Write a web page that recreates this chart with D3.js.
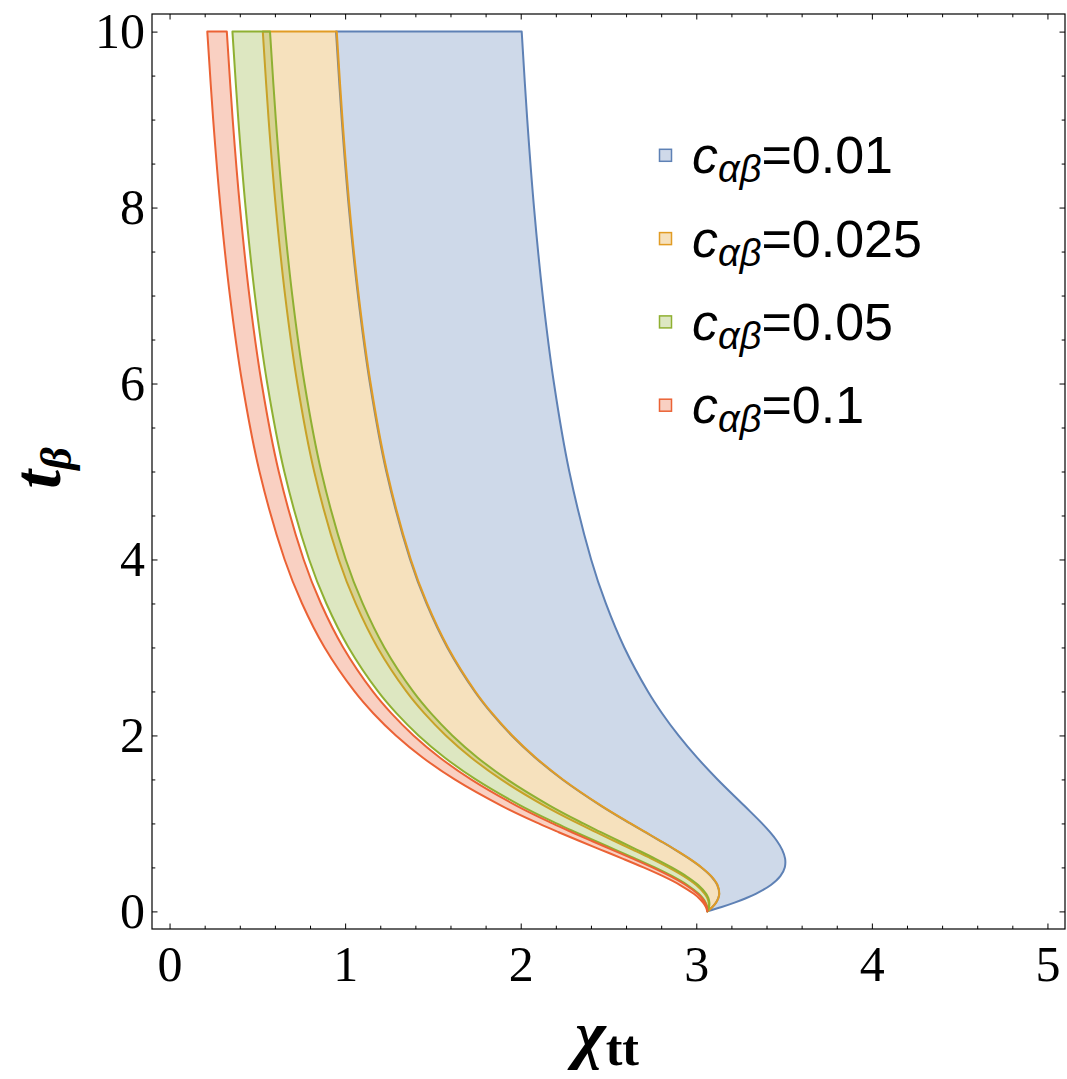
<!DOCTYPE html>
<html>
<head>
<meta charset="utf-8">
<script src="https://cdn.jsdelivr.net/npm/d3@7"></script>
<style>
  body { margin: 0; background: #fff; }
</style>
</head>
<body>
<svg id="chart"></svg>
<script>
// t_beta sample levels (shared by every boundary curve)
const tbLevels = [0, 0.05, 0.1, 0.15, 0.2, 0.3, 0.4, 0.5, 0.6, 0.7, 0.8, 0.9, 1, 1.2, 1.5, 1.75, 2, 2.25, 2.5, 3, 3.5, 4, 5, 6, 7, 8, 9, 10];

// chi_tt boundaries, one value per t_beta level
const upper001 = [3.063, 3.1446, 3.2179, 3.2826, 3.3387, 3.4249, 3.4787, 3.5039, 3.5059, 3.4894, 3.4595, 3.4201, 3.3745, 3.2739, 3.1212, 3.0037, 2.8985, 2.8058, 2.7246, 2.5900, 2.4849, 2.4011, 2.2767, 2.1896, 2.1253, 2.0758, 2.0372, 2.0056];
const lower001 = [3.063, 3.0915, 3.1121, 3.1250, 3.1303, 3.1195, 3.0839, 3.0286, 2.9590, 2.8799, 2.7955, 2.7090, 2.6229, 2.4574, 2.2368, 2.0809, 1.9479, 1.8346, 1.7377, 1.5817, 1.4629, 1.3699, 1.2344, 1.1412, 1.0731, 1.0211, 0.9807, 0.9479];
const upper0025 = [3.063, 3.0917, 3.1125, 3.1256, 3.1311, 3.1207, 3.0855, 3.0305, 2.9612, 2.8824, 2.7982, 2.7119, 2.6259, 2.4607, 2.2404, 2.0846, 1.9517, 1.8385, 1.7417, 1.5858, 1.4670, 1.3741, 1.2386, 1.1454, 1.0773, 1.0254, 0.9850, 0.9522];
const lower0025 = [3.063, 3.0705, 3.0704, 3.0628, 3.0481, 2.9991, 2.9283, 2.8412, 2.7434, 2.6396, 2.5338, 2.4287, 2.3266, 2.1355, 1.8882, 1.7170, 1.5731, 1.4517, 1.3486, 1.1842, 1.0600, 0.9634, 0.8236, 0.7278, 0.6582, 0.6054, 0.5642, 0.5310];
const upper005 = [3.063, 3.0726, 3.0745, 3.0689, 3.0562, 3.0110, 2.9437, 2.8597, 2.7647, 2.6633, 2.5596, 2.4564, 2.3559, 2.1673, 1.9226, 1.7529, 1.6101, 1.4895, 1.3870, 1.2234, 1.0998, 1.0035, 0.8641, 0.7686, 0.6991, 0.6464, 0.6053, 0.5721];
const lower005 = [3.063, 3.0619, 3.0531, 3.0371, 3.0140, 2.9492, 2.8638, 2.7636, 2.6541, 2.5400, 2.4253, 2.3126, 2.2038, 2.0021, 1.7437, 1.5662, 1.4177, 1.2930, 1.1874, 1.0195, 0.8930, 0.7949, 0.6533, 0.5565, 0.4863, 0.4331, 0.3916, 0.3581];
const upper01 = [3.063, 3.0603, 3.0499, 3.0323, 3.0077, 2.9400, 2.8519, 2.7492, 2.6375, 2.5216, 2.4052, 2.2910, 2.1811, 1.9774, 1.7169, 1.5383, 1.3890, 1.2636, 1.1575, 0.9889, 0.8621, 0.7637, 0.6217, 0.5247, 0.4544, 0.4012, 0.3596, 0.3261];
const lower01 = [3.063, 3.0547, 3.0388, 3.0157, 2.9858, 2.9078, 2.8103, 2.6992, 2.5800, 2.4575, 2.3354, 2.2163, 2.1020, 1.8915, 1.6239, 1.4412, 1.2890, 1.1614, 1.0537, 0.8829, 0.7546, 0.6552, 0.5121, 0.4145, 0.3437, 0.2902, 0.2485, 0.2149];

const seriesLabels = ['0.01', '0.025', '0.05', '0.1'];
const seriesColors = ['#5e81b5', '#e19c24', '#8fb032', '#eb6235'];
const xTicks = [0, 1, 2, 3, 4, 5];
const yTicks = [0, 2, 4, 6, 8, 10];

const bands = [
  {label: seriesLabels[0], color: seriesColors[0], upper: upper001, lower: lower001},
  {label: seriesLabels[1], color: seriesColors[1], upper: upper0025, lower: lower0025},
  {label: seriesLabels[2], color: seriesColors[2], upper: upper005, lower: lower005},
  {label: seriesLabels[3], color: seriesColors[3], upper: upper01, lower: lower01}
];

const W = 1067, H = 1079;
const margin = {top: 14, right: 2, bottom: 150, left: 152};
const width = W - margin.left - margin.right;
const height = H - margin.top - margin.bottom;

const serif = '"Liberation Serif", "Times New Roman", serif';
const sans = '"Liberation Sans", Arial, sans-serif';

const svg = d3.select('#chart').attr('width', W).attr('height', H);
const chart = svg.append('g').attr('transform', `translate(${margin.left},${margin.top})`);

const x = d3.scaleLinear().domain([-0.1, 5.1]).range([0, width]);
const y = d3.scaleLinear().domain([-0.2, 10.2]).range([height, 0]);

// bands: upper curve bottom->top, then lower curve top->bottom
const line = d3.line()
    .x(d => x(d[0]))
    .y(d => y(d[1]))
    .curve(d3.curveCatmullRom.alpha(0.5));

bands.forEach(b => {
  const up = tbLevels.map((t, i) => [b.upper[i], t]);
  const lo = tbLevels.map((t, i) => [b.lower[i], t]).reverse();
  const d = line(up) + line(lo).replace(/^M/, 'L') + 'Z';
  chart.append('path')
      .attr('d', d)
      .attr('fill', b.color)
      .attr('fill-opacity', 0.3)
      .attr('stroke', b.color)
      .attr('stroke-width', 2)
      .attr('stroke-linejoin', 'round');
});

// frame ticks, pointing inward on all four sides
const minorX = d3.range(0, 5.001, 0.2).filter(v => Math.abs(v - Math.round(v)) > 1e-6);
const minorY = d3.range(0, 10.001, 0.5).filter(v => Math.abs(v / 2 - Math.round(v / 2)) > 1e-6);

function addAxis(axis, transform) {
  const g = chart.append('g')
      .attr('transform', transform)
      .call(axis)
      .attr('font-family', serif)
      .attr('font-size', 50);
  g.select('.domain').remove();
  g.selectAll('.tick line').attr('stroke', '#000');
  g.selectAll('.tick text').attr('fill', '#000');
  return g;
}

const maj = 5.5, mnr = 3.3;
addAxis(d3.axisBottom(x).tickValues(xTicks).tickSizeInner(-maj).tickSizeOuter(0).tickPadding(16).tickFormat(d3.format('d')), `translate(0,${height})`);
addAxis(d3.axisBottom(x).tickValues(minorX).tickSizeInner(-mnr).tickSizeOuter(0).tickFormat(''), `translate(0,${height})`);
addAxis(d3.axisTop(x).tickValues(xTicks).tickSizeInner(-maj).tickSizeOuter(0).tickFormat(''), 'translate(0,0)');
addAxis(d3.axisTop(x).tickValues(minorX).tickSizeInner(-mnr).tickSizeOuter(0).tickFormat(''), 'translate(0,0)');
addAxis(d3.axisLeft(y).tickValues(yTicks).tickSizeInner(-maj).tickSizeOuter(0).tickPadding(7).tickFormat(d3.format('d')), 'translate(0,0)');
addAxis(d3.axisLeft(y).tickValues(minorY).tickSizeInner(-mnr).tickSizeOuter(0).tickFormat(''), 'translate(0,0)');
addAxis(d3.axisRight(y).tickValues(yTicks).tickSizeInner(-maj).tickSizeOuter(0).tickFormat(''), `translate(${width},0)`);
addAxis(d3.axisRight(y).tickValues(minorY).tickSizeInner(-mnr).tickSizeOuter(0).tickFormat(''), `translate(${width},0)`);

chart.append('rect')
    .attr('width', width)
    .attr('height', height)
    .attr('fill', 'none')
    .attr('stroke', '#000')
    .attr('stroke-width', 1.2);

// axis titles
const xTitle = svg.append('text')
    .attr('x', 607)
    .attr('y', 1056)
    .attr('text-anchor', 'middle')
    .attr('font-family', serif)
    .attr('font-weight', 'bold');
xTitle.append('tspan').attr('font-style', 'italic').attr('font-size', 66).text('χ');
xTitle.append('tspan').attr('font-size', 50).attr('dy', 9).text('tt');

const yTitle = svg.append('text')
    .attr('transform', 'translate(60,468) rotate(-90)')
    .attr('text-anchor', 'middle')
    .attr('font-family', serif)
    .attr('font-weight', 'bold')
    .attr('font-style', 'italic');
yTitle.append('tspan').attr('font-size', 68).text('t');
yTitle.append('tspan').attr('font-size', 44).attr('dy', 11).text('β');

// legend
const legend = svg.append('g');
bands.forEach((b, i) => {
  const base = 173.3 + i * 83.3;
  legend.append('rect')
      .attr('x', 659.5)
      .attr('y', base - 24)
      .attr('width', 12)
      .attr('height', 12)
      .attr('fill', d3.interpolateRgb('#fff', b.color)(0.3))
      .attr('stroke', b.color)
      .attr('stroke-width', 1.5);
  const txt = legend.append('text')
      .attr('x', 692)
      .attr('y', base)
      .attr('font-family', sans)
      .attr('font-size', 52);
  txt.append('tspan').attr('font-style', 'italic').text('c');
  txt.append('tspan').attr('font-style', 'italic').attr('font-size', 38).attr('dy', 9).text('αβ');
  txt.append('tspan').attr('dy', -9).text('=' + b.label);
});
</script>
</body>
</html>
